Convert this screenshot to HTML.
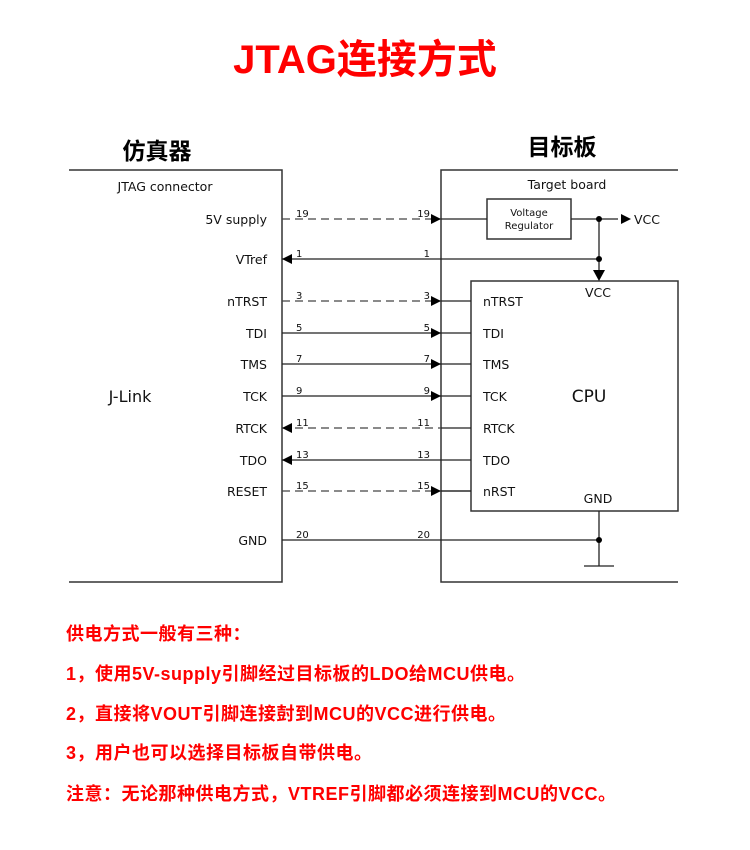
<!DOCTYPE html>
<html><head><meta charset="utf-8"><style>
html,body{margin:0;padding:0;background:#fff;width:750px;height:850px;overflow:hidden}
svg{display:block}
.l{font-family:"DejaVu Sans","Liberation Sans",sans-serif;font-size:12.5px;fill:#111}
.n{font-family:"DejaVu Sans","Liberation Sans",sans-serif;font-size:10px;fill:#111}
.r{font-family:"Liberation Sans","Noto Sans CJK SC",sans-serif;font-weight:bold;font-size:18px;letter-spacing:0.5px;fill:#f00}
</style></head><body>
<svg width="750" height="850" viewBox="0 0 750 850" xmlns="http://www.w3.org/2000/svg">
<text x="365" y="73" text-anchor="middle" font-family="Liberation Sans,'Noto Sans CJK SC',sans-serif" font-weight="bold" font-size="40" fill="#f00">JTAG连接方式</text>
<text x="157" y="159" text-anchor="middle" font-family="Liberation Sans,'Noto Sans CJK SC',sans-serif" font-weight="bold" font-size="23" fill="#000">仿真器</text>
<text x="562" y="155" text-anchor="middle" font-family="Liberation Sans,'Noto Sans CJK SC',sans-serif" font-weight="bold" font-size="23" fill="#000">目标板</text>
<g stroke="#333" stroke-width="1.5" fill="none">
<path d="M69 170H282V582H69"/>
<path d="M678 170H441V582H678"/>
<rect x="471" y="281" width="207" height="230"/>
<rect x="487" y="199" width="84" height="40"/>
</g>
<g stroke="#222" stroke-width="1.3" fill="none">
<path d="M282 259H599"/>
<path d="M441 219H487M571 219H618"/>
<path d="M599 219V272"/>
<path d="M282 333H471M282 364H471M282 396H471M441 460H471M441 491H471M282 460H441M441 428H471"/>
<path d="M599 511V566M584 566H614M282 540H599"/>
</g>
<g stroke="#444" stroke-width="1.3" fill="none" stroke-dasharray="8,5">
<path d="M282 219H441M282 301H441M282 428H441M282 491H441"/>
</g>
<path d="M441 301H471M441 491H471" stroke="#222" stroke-width="1.3"/>
<g fill="#000">
<path d="M441 219l-10-5v10z"/><path d="M441 301l-10-5v10z"/><path d="M441 333l-10-5v10z"/><path d="M441 364l-10-5v10z"/><path d="M441 396l-10-5v10z"/><path d="M441 491l-10-5v10z"/>
<path d="M282 259l10-5v10z"/><path d="M282 428l10-5v10z"/><path d="M282 460l10-5v10z"/>
<path d="M631 219l-10-5v10z"/><path d="M599 281l-6-11h12z"/>
<circle cx="599" cy="219" r="3"/><circle cx="599" cy="259" r="3"/><circle cx="599" cy="540" r="3"/>
</g>
<text class="l" x="165" y="191" text-anchor="middle">JTAG connector</text>
<text class="l" x="567" y="189" text-anchor="middle">Target board</text>
<text class="n" x="529" y="216" text-anchor="middle">Voltage</text>
<text class="n" x="529" y="229" text-anchor="middle">Regulator</text>
<text class="l" x="634" y="224">VCC</text>
<text class="l" x="598" y="297" text-anchor="middle">VCC</text>
<text class="l" x="598" y="503" text-anchor="middle">GND</text>
<text x="589" y="402" text-anchor="middle" font-family="DejaVu Sans,sans-serif" font-size="17" fill="#111">CPU</text>
<text x="130" y="402" text-anchor="middle" font-family="DejaVu Sans,sans-serif" font-size="16" fill="#111">J-Link</text>
<g class="l" text-anchor="end">
<text x="267" y="224">5V supply</text><text x="267" y="264">VTref</text><text x="267" y="306">nTRST</text><text x="267" y="338">TDI</text><text x="267" y="369">TMS</text><text x="267" y="401">TCK</text><text x="267" y="433">RTCK</text><text x="267" y="465">TDO</text><text x="267" y="496">RESET</text><text x="267" y="545">GND</text>
</g>
<g class="l">
<text x="483" y="306">nTRST</text><text x="483" y="338">TDI</text><text x="483" y="369">TMS</text><text x="483" y="401">TCK</text><text x="483" y="433">RTCK</text><text x="483" y="465">TDO</text><text x="483" y="496">nRST</text>
</g>
<g class="n">
<text x="296" y="217">19</text><text x="296" y="257">1</text><text x="296" y="299">3</text><text x="296" y="331">5</text><text x="296" y="362">7</text><text x="296" y="394">9</text><text x="296" y="426">11</text><text x="296" y="458">13</text><text x="296" y="489">15</text><text x="296" y="538">20</text>
</g>
<g class="n" text-anchor="end">
<text x="430" y="217">19</text><text x="430" y="257">1</text><text x="430" y="299">3</text><text x="430" y="331">5</text><text x="430" y="362">7</text><text x="430" y="394">9</text><text x="430" y="426">11</text><text x="430" y="458">13</text><text x="430" y="489">15</text><text x="430" y="538">20</text>
</g>
<text class="r" x="66" y="640">供电方式一般有三种：</text>
<text class="r" x="66" y="680">1，使用5V-supply引脚经过目标板的LDO给MCU供电。</text>
<text class="r" x="66" y="720">2，直接将VOUT引脚连接尌到MCU的VCC进行供电。</text>
<text class="r" x="66" y="759">3，用户也可以选择目标板自带供电。</text>
<text class="r" x="66" y="800">注意：无论那种供电方式，VTREF引脚都必须连接到MCU的VCC。</text>
</svg>
</body></html>
